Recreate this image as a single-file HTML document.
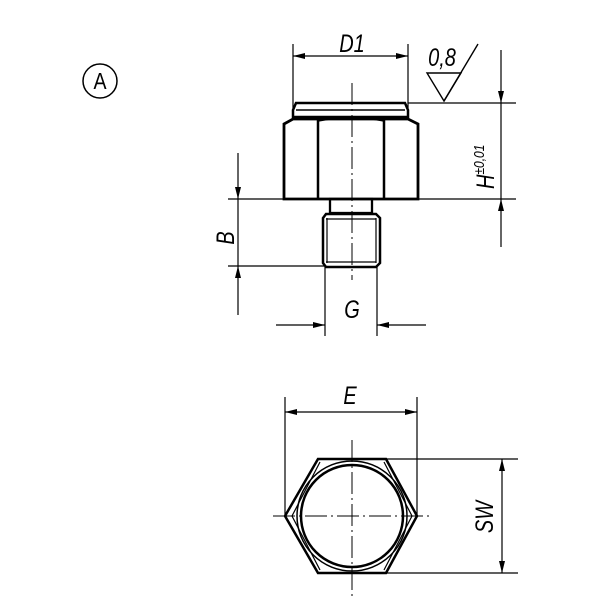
<!DOCTYPE html>
<html><head><meta charset="utf-8"><style>
html,body{margin:0;padding:0;background:#fff;}
svg{display:block;}
text{font-family:"Liberation Sans",sans-serif;font-style:italic;fill:#000;}
</style></head><body>
<svg width="600" height="600" viewBox="0 0 600 600" xmlns="http://www.w3.org/2000/svg">
<defs>
<marker id="ar" viewBox="0 0 12 6" refX="12" refY="3" markerWidth="12" markerHeight="6" orient="auto-start-reverse" markerUnits="userSpaceOnUse">
<path d="M0,0 L12,3 L0,6 z" fill="#000"/></marker>
</defs>
<circle cx="100" cy="81" r="17" fill="none" stroke="#000" stroke-width="1.5"/>
<text transform="translate(100,89) scale(0.85,1)" font-size="23" text-anchor="middle" style="font-style:normal">A</text>

<g stroke="#000" fill="none">
<line x1="293" y1="44" x2="293" y2="108" stroke-width="1.2"/>
<line x1="408" y1="44" x2="408" y2="108" stroke-width="1.2"/>
<line x1="293" y1="56" x2="408" y2="56" stroke-width="1.2" marker-start="url(#ar)" marker-end="url(#ar)"/>
<polygon points="427,73 461,73 444,101" stroke-width="1.4"/>
<line x1="444" y1="101" x2="478" y2="44" stroke-width="1.4"/>
<line x1="408" y1="103" x2="516" y2="103" stroke-width="1.2"/>
<line x1="228" y1="199" x2="516" y2="199" stroke-width="1.2"/>
<line x1="228" y1="266" x2="325" y2="266" stroke-width="1.2"/>
<line x1="501" y1="50" x2="501" y2="103" stroke-width="1.2" marker-end="url(#ar)"/>
<line x1="501" y1="247" x2="501" y2="199" stroke-width="1.2" marker-end="url(#ar)"/>
<line x1="501" y1="103" x2="501" y2="199" stroke-width="1.2"/>
<line x1="238" y1="153" x2="238" y2="199" stroke-width="1.2" marker-end="url(#ar)"/>
<line x1="238" y1="315" x2="238" y2="266" stroke-width="1.2" marker-end="url(#ar)"/>
<line x1="238" y1="199" x2="238" y2="266" stroke-width="1.2"/>
<path d="M296,103 L405,103 L408,110 L408,117 L293,117 L293,110 Z" stroke-width="2.5"/>
<line x1="296" y1="110" x2="405" y2="110" stroke-width="1.5"/>
<path d="M284,124 L293,119 L408,119 L418,124 L418,199 L284,199 Z" stroke-width="2.8"/>
<line x1="318" y1="120" x2="318" y2="199" stroke-width="2.5"/>
<line x1="384" y1="120" x2="384" y2="199" stroke-width="2.5"/>
<path d="M318,121 L330,119 M384,121 L372,119" stroke-width="1.5"/>
<rect x="330" y="199" width="42" height="14" stroke-width="2.3"/>
<path d="M326,214 L376,214 L380,218 L380,263 L376,267 L326,267 L323,263 L323,218 Z" stroke-width="2.5"/>
<path d="M327,218 L327,263 M376,218 L376,263 M326,219 L376,219 M326,262 L376,262" stroke-width="1.2"/>
<line x1="352" y1="83" x2="352" y2="280" stroke-width="1" stroke-dasharray="22,4,2,4"/>
<line x1="325" y1="267" x2="325" y2="336" stroke-width="1.2"/>
<line x1="377" y1="267" x2="377" y2="336" stroke-width="1.2"/>
<line x1="276" y1="325" x2="325" y2="325" stroke-width="1.2" marker-end="url(#ar)"/>
<line x1="426" y1="325" x2="377" y2="325" stroke-width="1.2" marker-end="url(#ar)"/>

<line x1="285" y1="397" x2="285" y2="517" stroke-width="1.2"/>
<line x1="417" y1="397" x2="417" y2="517" stroke-width="1.2"/>
<line x1="285" y1="412" x2="417" y2="412" stroke-width="1.2" marker-start="url(#ar)" marker-end="url(#ar)"/>
<path d="M318,459 L386,459 L417,516 L386,573 L318,573 L285,516 Z" stroke-width="2.5"/>
<path d="M320,462 L292,516 L320,570 M384,462 L412,516 L384,570" stroke-width="1.2"/>
<circle cx="352" cy="516" r="55" stroke-width="1.5"/>
<circle cx="352" cy="516" r="51" stroke-width="2.5"/>
<line x1="273" y1="516" x2="430" y2="516" stroke-width="1" stroke-dasharray="22,4,2,4"/>
<line x1="352" y1="440" x2="352" y2="596" stroke-width="1" stroke-dasharray="22,4,2,4"/>
<line x1="386" y1="459" x2="518" y2="459" stroke-width="1.2"/>
<line x1="386" y1="573" x2="518" y2="573" stroke-width="1.2"/>
<line x1="502" y1="459" x2="502" y2="573" stroke-width="1.2" marker-start="url(#ar)" marker-end="url(#ar)"/>
</g>

<g font-size="25" text-anchor="middle">
<text transform="translate(352,52) scale(0.8,1)">D1</text>
<text transform="translate(442,66) scale(0.8,1)">0,8</text>
<text transform="translate(352,318) scale(0.8,1)">G</text>
<text transform="translate(350,404) scale(0.8,1)">E</text>
<text transform="translate(234,238) rotate(-90) scale(0.8,1)">B</text>
<text transform="translate(493,517) rotate(-90) scale(0.8,1)">SW</text>
</g>
<text transform="translate(494,189) rotate(-90) scale(0.8,1)" font-size="25">H<tspan font-size="15" dy="-10">±0,01</tspan></text>
</svg>
</body></html>
